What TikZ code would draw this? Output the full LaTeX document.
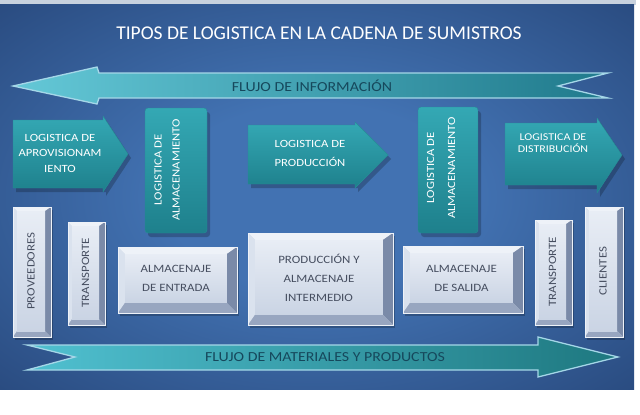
\documentclass[tikz,border=0pt]{standalone}
\usepackage{fontspec}
\setmainfont{Carlito}
\newfontfamily\wf[FakeStretch=1.15]{Carlito}
\usetikzlibrary{calc}
\definecolor{pin}{RGB}{66,114,178}
\definecolor{pout}{RGB}{27,52,98}
\definecolor{topstrip}{RGB}{200,210,222}
\definecolor{tealA}{RGB}{52,168,180}
\definecolor{tealB}{RGB}{30,128,140}
\definecolor{tealEdge}{RGB}{40,140,150}
\definecolor{arrL}{RGB}{100,200,215}
\definecolor{arrR}{RGB}{32,122,140}
\definecolor{arrEdge}{RGB}{165,215,232}
\definecolor{matL}{RGB}{80,192,208}
\definecolor{matR}{RGB}{30,120,128}
\definecolor{flowtxt}{RGB}{22,72,92}
\definecolor{boxtxt}{RGB}{70,78,96}
\definecolor{bvbase}{RGB}{205,214,228}
\definecolor{bvtopc}{RGB}{238,242,248}
\definecolor{bvleftc}{RGB}{218,226,238}
\definecolor{bvrightc}{RGB}{122,138,168}
\definecolor{bvbotc}{RGB}{152,166,192}
\definecolor{bvfaceA}{RGB}{232,237,245}
\definecolor{bvfaceB}{RGB}{202,212,228}
\pgfdeclareradialshading{panelshade}{\pgfpoint{0bp}{0bp}}{color(0bp)=(pin);color(12bp)=(pin);color(50bp)=(pout);color(75bp)=(pout)}
\tikzset{
  shadowfill/.style={fill=black, opacity=0.22},
  tealshape/.style={top color=tealA, bottom color=tealB, draw=tealEdge, line width=0.4pt},
  tealtext/.style={text=white, align=center, inner sep=0pt, font=\wf\fontsize{11}{15.5}\selectfont},
  boxtext/.style={text=boxtxt, align=center, inner sep=0pt, font=\wf\fontsize{11.2}{19}\selectfont},
  flowtext/.style={text=flowtxt, inner sep=0pt, font=\wf\fontsize{13.8}{16}\selectfont},
  bvtop/.style={fill=bvtopc},
  bvleft/.style={fill=bvleftc},
  bvright/.style={fill=bvrightc},
  bvbot/.style={fill=bvbotc},
  bvedge/.style={draw=bvtopc, line width=0.5pt},
}
\newcommand\bevbox[8]{%
  \fill[shadowfill] ({#2+2},{#3+3}) rectangle ({#4+2},{#5+3});
  \fill[bvbase] (#2,#3) rectangle (#4,#5);
  \fill[bvtop] (#2,#3) -- (#4,#3) -- ({#4-1.45*#6},{#3+#6}) -- ({#2+#6},{#3+#6}) -- cycle;
  \fill[bvleft] (#2,#3) -- ({#2+#6},{#3+#6}) -- ({#2+#6},{#5-1.45*#6}) -- (#2,#5) -- cycle;
  \fill[bvright] (#4,#3) -- ({#4-1.45*#6},{#3+#6}) -- ({#4-1.45*#6},{#5-1.45*#6}) -- (#4,#5) -- cycle;
  \fill[bvbot] (#2,#5) -- ({#2+#6},{#5-1.45*#6}) -- ({#4-1.45*#6},{#5-1.45*#6}) -- (#4,#5) -- cycle;
  \shade[top color=bvfaceA, bottom color=bvfaceB] ({#2+#6},{#3+#6}) rectangle ({#4-1.45*#6},{#5-1.45*#6});
  \draw[bvedge] (#2,#3) rectangle (#4,#5);
  \node[#7] (#1) at ({(#2+#4)/2-0.22*#6},{(#3+#5)/2-0.22*#6}) {#8};
}
\begin{document}
\begin{tikzpicture}[x=1pt,y=-1pt]
\useasboundingbox (0,0) rectangle (640,415);
\fill[white] (0,0) rectangle (640,415);
\fill[topstrip] (0,0) rectangle (636,5);
\shade[shading=panelshade] (0,4) rectangle (634,389);

% title
\node[text=white, inner sep=0pt, font=\fontsize{19.5}{22}\selectfont] (title) at (319,33) {TIPOS DE LOGISTICA EN LA CADENA DE SUMISTROS};

% information flow arrow
\shadedraw[left color=arrL, right color=arrR, draw=arrEdge, line width=1.3pt, line join=miter]
  (13,86) -- (97,67) -- (99,73) -- (608,73) -- (558,86) -- (608,98) -- (99,98) -- (97,104) -- cycle;
\node[flowtext] (info) at (312,86) {FLUJO DE INFORMACIÓN};

% materials flow arrow
\shadedraw[left color=matL, right color=matR, draw=arrEdge, line width=1.3pt, line join=miter]
  (27,345) -- (538,345) -- (538,337) -- (618,357) -- (538,377) -- (538,370) -- (27,370) -- (75,357) -- cycle;
\node[flowtext] (mat) at (325,357) {FLUJO DE MATERIALES Y PRODUCTOS};

% teal shapes: shadows
\fill[shadowfill, shift={(3,4)}] (13,120) -- (103,120) -- (103,116) -- (128,154) -- (103,192) -- (103,188) -- (13,188) -- cycle;
\fill[shadowfill, shift={(3,4)}] (248,125) -- (355,125) -- (355,122) -- (388,155) -- (355,188) -- (355,184) -- (248,184) -- cycle;
\fill[shadowfill, shift={(3,4)}] (505,123) -- (597,123) -- (597,118) -- (622,155) -- (597,193) -- (597,185) -- (505,185) -- cycle;
\fill[shadowfill, shift={(3,4)}, rounded corners=3pt] (145,108) rectangle (207,233);
\fill[shadowfill, shift={(3,4)}, rounded corners=3pt] (418,107) rectangle (478,233);

% teal shapes
\shadedraw[tealshape] (13,120) -- (103,120) -- (103,116) -- (128,154) -- (103,192) -- (103,188) -- (13,188) -- cycle;
\node[tealtext] (aprov) at (60,153) {LOGISTICA DE\\APROVISIONAM\\IENTO};

\shadedraw[tealshape, rounded corners=3pt] (145,108) rectangle (207,233);
\node[tealtext, rotate=90, font=\wf\fontsize{11}{18}\selectfont] (alm1) at (167,170) {LOGISTICA DE\\ALMACENAMIENTO};

\shadedraw[tealshape] (248,125) -- (355,125) -- (355,122) -- (388,155) -- (355,188) -- (355,184) -- (248,184) -- cycle;
\node[tealtext, font=\wf\fontsize{11}{19}\selectfont] (prod) at (310,153) {LOGISTICA DE\\PRODUCCIÓN};

\shadedraw[tealshape, rounded corners=3pt] (418,107) rectangle (478,233);
\node[tealtext, rotate=90, font=\wf\fontsize{11}{21}\selectfont] (alm2) at (441,168) {LOGISTICA DE\\ALMACENAMIENTO};

\shadedraw[tealshape] (505,123) -- (597,123) -- (597,118) -- (622,155) -- (597,193) -- (597,185) -- (505,185) -- cycle;
\node[tealtext, font=\wf\fontsize{10.4}{12}\selectfont] (dist) at (553,143) {LOGISTICA DE\\DISTRIBUCIÓN};

% bevel boxes
\bevbox{prov}{13}{207}{51}{337}{4}{boxtext, rotate=90}{PROVEEDORES}
\bevbox{trans1}{68}{222}{105}{325}{4}{boxtext, rotate=90}{TRANSPORTE}
\bevbox{entrada}{118}{247}{237}{313}{7}{boxtext}{ALMACENAJE\\DE ENTRADA}
\bevbox{prodalm}{248}{233}{393}{325}{7}{boxtext}{PRODUCCIÓN Y\\ALMACENAJE\\INTERMEDIO}
\bevbox{salida}{403}{246}{523}{313}{7}{boxtext}{ALMACENAJE\\DE SALIDA}
\bevbox{trans2}{535}{220}{572}{325}{4}{boxtext, rotate=90}{TRANSPORTE}
\bevbox{clientes}{585}{207}{623}{337}{4}{boxtext, rotate=90}{CLIENTES}
\end{tikzpicture}
\end{document}
